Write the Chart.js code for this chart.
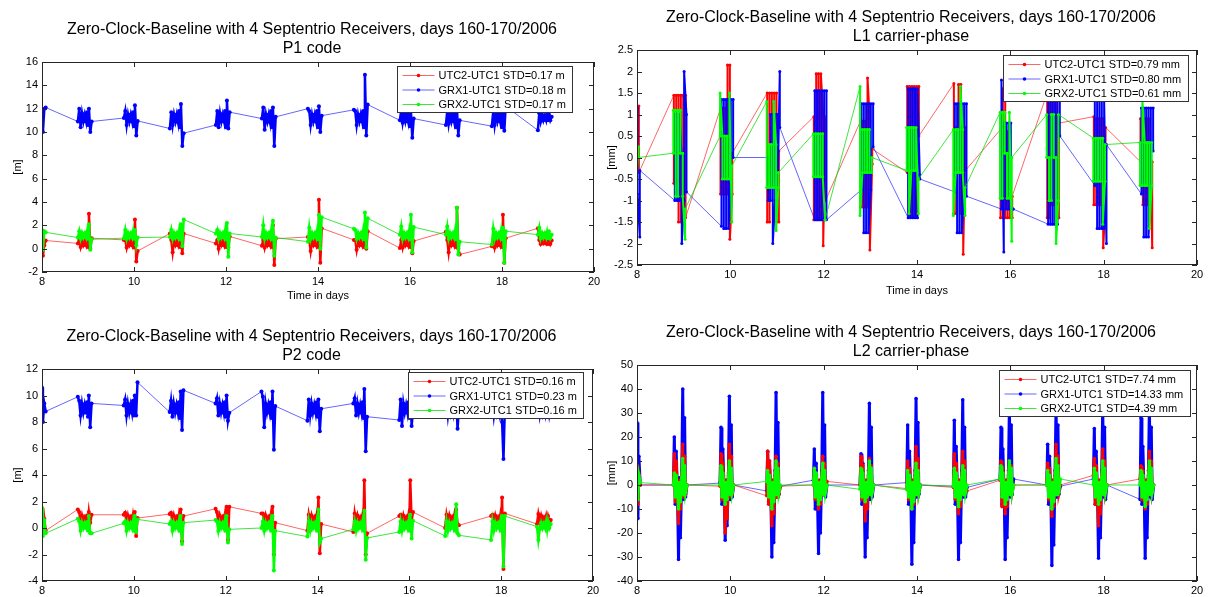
<!DOCTYPE html>
<html lang="en">
<head>
<meta charset="UTF-8">
<title>Zero-Clock-Baseline with 4 Septentrio Receivers</title>
<script src="https://cdn.jsdelivr.net/npm/chart.js"></script>
<style>
  body { margin: 0; background: #fff; }
  #wrap { position: relative; width: 1210px; height: 597px; overflow: hidden; }
  canvas { position: absolute; }
</style>
</head>
<body>
<div id="wrap">
  <canvas id="p1" width="605" height="305" style="left:0;top:0"></canvas>
  <canvas id="l1" width="605" height="300" style="left:605px;top:0"></canvas>
  <canvas id="p2" width="605" height="297" style="left:0;top:300px"></canvas>
  <canvas id="l2" width="605" height="297" style="left:605px;top:300px"></canvas>
</div>
<script>
// one cluster of samples per day, the first one starts at day 8.0
const days = [8, 9, 10, 11, 12, 13, 14, 15, 16, 17, 18, 19];
const titleLine = 'Zero-Clock-Baseline with 4 Septentrio Receivers, days 160-170/2006';
const seriesNames = ['UTC2-UTC1', 'GRX1-UTC1', 'GRX2-UTC1'];

// time of each sample inside a cluster, relative to the day
const codeOffsets = [-0.22, -0.19, -0.16, -0.13, -0.10, -0.07, -0.04, -0.02, 0, 0.02, 0.05, 0.08];
const l1RedOffsets = [-0.21, -0.21, -0.16, -0.16, -0.11, -0.11, -0.06, -0.06, -0.01, -0.01, 0.04, 0.04];
const l1BlueOffsets = [-0.19, -0.19, -0.14, -0.14, -0.09, -0.09, -0.04, -0.04, 0.01, 0.01, 0.06, 0.06];
const l1GreenOffsets = [-0.22, -0.22, -0.17, -0.17, -0.12, -0.12, -0.07, -0.07, -0.02, -0.02, 0.03, 0.03];
const l2Offsets = [-0.22, -0.2, -0.18, -0.16, -0.13, -0.11, -0.09, -0.07, -0.04, -0.02, 0, 0.02, 0.04, 0.07];

// ---- P1 code [m]
const p1Std = ['0.17 m', '0.18 m', '0.17 m'];
const p1Red = [
  [0.8, -0.6, 0.3, 0.7],
  [0.45, 0.75, 0.15, 0.65, 0.3, 0.65, 0.3, 0.75, 0.15, 3.0, 0.0, 0.9],
  [0.75, 0.75, 0.1, 0.65, 0.3, 0.65, 0.3, 0.75, 0.1, 2.5, -1.1, -0.2],
  [1.3, 0.75, -0.3, 0.65, 0.3, 0.65, 0.3, 0.75, 0.15, 1.2, -0.4, 1.3],
  [0.45, 0.75, 0.0, 0.65, 0.3, 0.65, 0.3, 0.75, 0.15, 1.1, 0.1, 1.05],
  [0.25, 0.75, 0.1, 0.65, 0.3, 0.65, 0.3, 0.75, 0.15, 2.0, -1.4, 0.85],
  [1.0, 0.75, -0.2, 0.65, 0.3, 0.65, 0.3, 0.75, 0.15, 4.2, -1.2, 1.75],
  [0.75, 0.75, -0.1, 0.65, 0.3, 0.65, 0.3, 0.75, 0.15, 1.6, 0.0, 1.5],
  [0.05, 0.75, 0.1, 0.65, 0.3, 0.65, 0.3, 0.75, 0.15, 1.0, -0.4, 0.65],
  [1.45, 0.75, -0.3, 0.65, 0.3, 0.65, 0.3, 0.75, 0.15, 3.5, 0.0, -0.5],
  [0.2, 0.75, 0.1, 0.65, 0.3, 0.65, 0.3, 0.75, 0.15, 2.9, -1.2, 0.9],
  [1.75, 0.75, 0.4, 0.65, 0.45, 0.65, 0.45, 0.75, 0.4, 0.8, 0.4, 0.7]
];
const p1Blue = [
  [11.3, 10.0, 12.0, 12.1],
  [10.9, 12.0, 10.4, 11.6, 10.9, 11.5, 10.9, 11.7, 10.6, 12.0, 10.0, 10.9],
  [11.2, 11.8, 10.6, 11.5, 10.9, 11.5, 10.9, 11.7, 10.5, 12.3, 9.7, 10.95],
  [10.3, 11.7, 10.6, 11.5, 10.9, 11.5, 10.8, 11.8, 10.4, 12.4, 8.8, 9.9],
  [10.6, 11.8, 10.4, 11.6, 10.9, 11.5, 10.9, 11.8, 10.4, 12.7, 10.3, 11.7],
  [11.15, 12.1, 10.2, 11.5, 10.9, 11.5, 10.8, 11.8, 10.4, 12.1, 8.8, 11.3],
  [12.0, 11.8, 10.6, 11.5, 10.9, 11.5, 10.9, 11.8, 10.4, 12.2, 10.0, 11.4],
  [11.9, 11.8, 10.6, 11.5, 10.9, 11.5, 10.9, 11.8, 10.4, 14.9, 9.7, 12.35],
  [11.0, 11.9, 10.8, 11.5, 10.9, 11.5, 10.9, 11.8, 10.5, 11.8, 9.5, 11.15],
  [10.6, 11.8, 10.7, 11.5, 10.9, 11.5, 10.9, 11.8, 10.4, 12.0, 9.7, 11.0],
  [10.5, 11.8, 10.6, 11.5, 10.9, 11.5, 10.9, 11.7, 10.4, 11.6, 10.1, 12.2],
  [10.15, 11.6, 10.9, 11.5, 11.0, 11.4, 11.0, 11.5, 11.0, 11.5, 11.0, 11.3]
];
const p1Green = [
  [1.6, -0.1, 1.5, 1.4],
  [0.95, 1.5, 0.85, 1.35, 0.95, 1.3, 0.95, 1.45, 0.85, 2.1, -0.1, 0.8],
  [0.9, 1.6, 0.85, 1.35, 0.95, 1.3, 0.95, 1.45, 0.85, 1.6, 0.3, 0.95],
  [1.0, 1.6, 0.85, 1.35, 0.95, 1.3, 0.95, 1.5, 0.8, 2.1, 0.2, 2.5],
  [1.3, 1.6, 0.85, 1.35, 0.95, 1.3, 0.95, 1.5, 0.8, 2.2, -0.7, 1.3],
  [1.0, 2.0, 0.85, 1.35, 0.95, 1.3, 0.95, 1.5, 0.8, 2.4, -0.6, 0.95],
  [0.6, 1.8, 0.85, 1.35, 0.95, 1.3, 0.95, 1.5, 0.8, 2.9, 0.0, 2.7],
  [1.7, 1.6, 0.85, 1.35, 0.95, 1.3, 0.95, 1.5, 0.8, 3.1, 0.1, 2.6],
  [1.2, 1.9, 0.85, 1.35, 0.95, 1.3, 0.95, 1.5, 0.8, 2.9, -0.3, 1.85],
  [1.2, 1.9, 0.85, 1.35, 0.95, 1.3, 0.95, 1.5, 0.8, 3.5, -0.5, 0.6],
  [0.35, 1.7, 0.85, 1.35, 0.95, 1.3, 0.95, 1.5, 0.8, 1.8, -1.2, 1.5],
  [1.2, 1.8, 0.9, 1.35, 0.95, 1.3, 0.95, 1.4, 0.9, 1.5, 0.9, 1.2]
];

// ---- L1 carrier-phase [mm]
const l1Std = ['0.79 mm', '0.80 mm', '0.61 mm'];
const l1Red = [
  [-0.8, 1.2, 1.2, -0.35],
  [1.45, -0.6, -0.6, 1.45, 1.45, -1.5, -1.5, 1.45, 1.45, -1.55, 1.45, -1.4],
  [1.15, -0.85, -0.85, 1.15, 1.15, -0.85, -0.85, 2.15, 2.15, -1.9, -0.85, 0.1],
  [1.5, -1.5, -1.5, 1.5, 1.5, -0.5, -0.5, 1.5, 1.5, -1.5, -1.5, 0.15],
  [0.95, -1.45, -1.45, 1.95, 1.95, -1.45, -1.45, 1.95, 0.95, -2.05, 0.95, -1.0],
  [0.85, -1.15, -1.15, 0.85, 0.85, -1.15, -1.15, 1.85, 0.85, -2.15, -0.15, 0.2],
  [-0.35, 1.65, 1.65, -1.35, -1.35, 1.65, 1.65, -1.35, -1.35, 1.65, 1.65, 0.5],
  [1.72, -1.3, -1.3, 0.7, 0.7, 1.7, 1.7, -1.3, 0.7, -2.25, 0.7, -0.3],
  [0.65, -1.4, -1.4, 1.6, 1.6, -1.4, -1.4, 0.6, 0.6, -1.4, -1.4, -0.9],
  [1.5, -1.4, -1.4, 1.6, 1.6, -1.1, -1.1, 1.6, 1.6, -1.4, -1.4, 0.8],
  [0.95, -1.1, -1.1, 0.9, 0.9, -1.1, -1.1, 0.9, 0.9, -2.1, -1.1, 0.7],
  [-0.1, 0.9, 0.9, -1.1, -1.1, 0.9, 0.9, -1.1, -1.1, 0.9, -2.1, -0.1]
];
const l1Blue = [
  [1.15, -0.85, -1.85, -0.3],
  [-1.0, 1.0, 1.0, -1.0, -1.0, 1.0, 0.0, -2.0, -1.0, 2.0, 1.0, -0.8],
  [-1.6, 1.35, 1.35, -1.65, -1.65, 1.35, 1.35, -1.65, -0.6, 1.35, 1.35, 0.0],
  [0.0, -1.0, -1.0, 1.0, 1.0, -2.0, -1.0, 1.0, 1.0, -1.0, 2.0, 0.7],
  [-1.45, 1.55, 1.55, -1.45, -1.45, 1.55, 1.55, -1.45, -1.45, 1.55, 1.55, -1.45],
  [-0.75, 1.25, 1.25, -1.75, -1.75, 1.25, 1.25, -1.75, -0.75, 1.25, 1.25, 0.25],
  [-1.4, 1.6, 1.6, -1.4, -1.4, 1.6, 1.6, -1.4, -1.4, 1.6, -0.4, -0.5],
  [-0.8, 1.25, 1.25, -1.75, -1.75, 1.25, 1.25, -1.75, -0.75, 1.25, 1.25, -0.9],
  [-1.2, 1.8, -2.2, 0.8, 0.8, -1.2, -1.2, 0.8, 0.8, -1.2, -1.2, -1.2],
  [-1.55, 1.45, 1.45, -1.55, -1.55, 1.45, 1.45, -1.55, -1.55, 1.45, 1.45, 0.5],
  [-0.65, 1.35, 1.35, -1.65, -1.65, 2.3, 1.35, -1.65, -1.65, 1.35, -2.0, 0.3],
  [-0.85, 1.15, 1.15, -1.85, -1.85, 1.15, 1.15, -1.85, -0.85, 1.15, 1.15, 0.15]
];
const l1Green = [
  [1.25, -0.75, 0.25, 0.0],
  [0.1, 1.1, 1.1, -0.9, -0.9, 1.1, 1.1, 0.1, 0.1, -0.9, -1.9, -1.2],
  [0.5, 1.5, 0.5, -0.5, -0.5, 0.5, 0.5, -0.5, -0.5, 1.5, -1.5, -0.2],
  [1.3, -0.7, -0.7, 0.3, 0.3, -0.7, -0.7, 1.3, 0.3, -1.7, -0.7, -0.35],
  [0.55, -0.45, -0.45, 0.55, 0.55, -0.45, -0.45, 0.55, 0.55, -0.45, -1.45, -1.45],
  [1.65, -1.35, -0.35, 0.65, 0.65, -0.35, -0.35, 0.65, 0.65, -0.35, -0.35, 0.0],
  [-0.3, 0.7, 0.7, -1.3, -0.3, 0.7, 0.7, -0.3, -0.3, 0.7, -1.3, -0.5],
  [0.65, -1.35, -0.35, 0.65, 0.65, -0.35, -0.35, 1.65, 0.65, -0.35, -1.35, -0.7],
  [1.05, -0.95, -0.95, 1.05, 1.05, 0.1, 0.1, -0.95, -0.95, 1.05, -1.95, 0.0],
  [1.0, 0.0, 0.0, -1.0, -1.0, 1.0, 1.0, 0.0, 0.0, -2.0, -1.0, 1.0],
  [0.45, -0.55, -0.55, 0.45, 0.45, -0.55, -0.55, 0.45, 0.45, -1.55, -0.55, 0.3],
  [0.35, -0.65, -0.65, 1.35, 0.35, -0.65, -0.65, 0.35, 0.35, -1.65, -0.65, 0.35]
];

// ---- P2 code [m]
const p2Std = ['0.16 m', '0.23 m', '0.16 m'];
const p2Red = [
  [1.5, -0.3, 0.7, -0.2],
  [1.4, 1.2, 0.45, 0.95, 0.5, 0.8, 0.5, 0.95, 0.45, 1.2, 0.4, 1.0],
  [1.0, 1.15, 0.45, 0.95, 0.5, 0.8, 0.5, 0.95, 0.45, 1.2, -0.6, 0.75],
  [1.05, 1.15, 0.45, 0.95, 0.5, 0.8, 0.5, 0.95, 0.45, 1.4, -1.0, 0.9],
  [1.45, 1.2, 0.45, 0.95, 0.5, 0.8, 0.5, 0.95, 0.45, 1.6, -0.9, 1.6],
  [1.1, 1.1, 0.45, 0.95, 0.5, 0.8, 0.5, 0.95, 0.45, 1.6, -2.0, 0.4],
  [-0.2, 1.0, 0.45, 0.95, 0.5, 0.8, 0.5, 0.95, 0.45, 2.3, -1.9, 0.3],
  [-0.3, 1.1, 0.45, 0.95, 0.5, 0.8, 0.5, 0.95, 0.45, 3.6, -2.0, -0.4],
  [0.9, 1.0, 0.45, 0.95, 0.5, 0.8, 0.5, 0.95, 0.45, 3.6, 0.5, 1.2],
  [0.0, 1.0, 0.45, 0.95, 0.5, 0.8, 0.5, 0.95, 0.45, 1.4, 0.3, 0.2],
  [0.9, 1.0, 0.45, 0.95, 0.5, 0.8, 0.5, 0.95, 0.45, 2.3, -3.1, 1.1],
  [0.3, 1.05, 0.5, 0.95, 0.55, 0.8, 0.55, 0.9, 0.5, 0.9, 0.5, 0.6]
];
const p2Blue = [
  [10.6, 8.0, 9.4, 8.8],
  [9.9, 9.6, 8.5, 9.4, 8.7, 9.3, 8.7, 9.5, 8.4, 10.0, 7.6, 9.4],
  [9.25, 9.7, 8.5, 9.4, 8.7, 9.3, 8.7, 9.6, 8.5, 10.0, 8.5, 11.0],
  [8.75, 9.6, 8.4, 9.4, 8.7, 9.3, 8.7, 9.5, 8.3, 10.3, 7.4, 10.4],
  [9.4, 9.8, 8.5, 9.4, 8.7, 9.3, 8.7, 9.5, 8.4, 10.0, 8.1, 8.7],
  [10.3, 9.9, 7.6, 9.4, 8.7, 9.3, 8.7, 9.5, 8.3, 10.3, 5.9, 9.2],
  [8.1, 9.7, 8.5, 9.4, 8.7, 9.3, 8.7, 9.5, 8.4, 9.7, 7.3, 9.0],
  [9.4, 9.8, 8.5, 9.4, 8.7, 9.3, 8.7, 9.5, 8.3, 10.5, 5.8, 8.4],
  [8.15, 9.7, 7.7, 9.4, 8.7, 9.3, 8.7, 9.5, 8.3, 10.8, 7.7, 8.85],
  [9.5, 9.6, 8.5, 9.4, 8.7, 9.3, 8.7, 9.5, 8.4, 9.8, 7.5, 9.0],
  [9.2, 9.6, 8.5, 9.4, 8.7, 9.3, 8.7, 9.5, 8.4, 8.0, 5.2, 9.1],
  [9.3, 9.6, 8.6, 9.4, 8.7, 9.3, 8.7, 9.5, 8.6, 9.6, 8.6, 9.2]
];
const p2Green = [
  [1.5, -0.6, 0.6, -0.4],
  [0.7, 0.5, -0.2, 0.4, 0.0, 0.35, 0.0, 0.45, -0.2, 0.9, -0.4, -0.4],
  [0.35, 0.5, -0.2, 0.4, 0.0, 0.35, 0.0, 0.45, -0.2, 0.9, -0.3, 0.65],
  [0.3, 0.5, -0.2, 0.4, 0.0, 0.35, 0.0, 0.45, -0.2, 0.9, -1.2, 0.4],
  [0.6, 0.5, -0.2, 0.4, 0.0, 0.35, 0.0, 0.45, -0.2, 0.9, -1.1, -0.1],
  [0.0, 0.5, -0.2, 0.4, 0.0, 0.35, 0.0, 0.45, -0.2, 0.9, -3.2, -0.2],
  [-0.65, 0.5, -0.2, 0.4, 0.0, 0.35, 0.0, 0.45, -0.2, 1.4, -1.1, -0.8],
  [-0.1, 0.5, -0.2, 0.4, 0.0, 0.35, 0.0, 0.45, -0.2, 1.3, -2.4, -0.75],
  [-0.3, 0.5, -0.2, 0.4, 0.0, 0.35, 0.0, 0.45, -0.2, 1.0, -0.8, 0.55],
  [-0.6, 0.5, -0.2, 0.4, 0.0, 0.35, 0.0, 0.45, -0.2, 1.8, -0.4, -0.55],
  [-0.9, 0.5, -0.2, 0.4, 0.0, 0.35, 0.0, 0.45, -0.2, 0.9, -2.9, 0.9],
  [0.1, -0.9, -0.1, 0.4, 0.0, 0.35, 0.0, 0.45, -0.1, 0.5, 0.0, 0.3]
];

// ---- L2 carrier-phase [mm]
const l2Std = ['7.74 mm', '14.33 mm', '4.39 mm'];
const l2Red = [
  [8, -8, 5, 0],
  [0, 13, -7, 10, -5, -16, 2, -10, 4, 17, -5, 12, -4, 0],
  [-0.5, 13, -6, 9, -5, -20, 2, -14, 4, 17, -5, 12, -4, 0],
  [-4.5, 14, -8, 10, -5, -17, 2, -12, 4, 12, -5, 9, -4, -0.5],
  [0, 7, -6, 5, -5, -10, 2, -8, 4, 12, -4, 9, -3, 1.5],
  [0, 12, -6, 8, -5, -15, 2, -10, 4, 11, -4, 8, -3, 0],
  [-1.5, 10, -6, 7, -5, -10, 2, -8, 4, 16, -4, 11, -3, 0],
  [-1, 13, -6, 9, -5, -12, 2, -9, 4, 14, -4, 10, -3, -2.5],
  [2, 10, -9, 7, -5, -12, 2, -9, 4, 10, -4, 8, -3, 0],
  [0, 9, -6, 7, -5, -13, 2, -9, 4, 17, -4, 12, -3, 0],
  [4, 11, -8, 8, -5, -17, 2, -12, 4, 15, -4, 10, -3, 0],
  [2.5, 8, -6, 6, -5, -10, 2, -8, 4, 14, -4, 10, -3, 0]
];
const l2Blue = [
  [26, -14, 12, 0],
  [0, 20, -8, 14, -6, -31, 3, -22, 6, 40, -6, 28, -5, 0],
  [0.8, 24, -8, 15, -5, -23, 2, -17, 5, 37, -6, 25, -5, 0],
  [-2.5, 14, -7, 10, -6, -30, 2, -24, 6, 38.5, -5, 26, -4, -0.5],
  [2, 15, -10, 9, -8, -28.5, 2, -20, 6, 38.5, -4, 25, -5, 0],
  [0, 13, -8, 9, -6, -30, 2, -22, 6, 34, -6, 24, -5, 0],
  [1, 25, -8, 14, -6, -33, 2, -24, 6, 36, -5, 26, -4, 0],
  [-0.5, 27, -8, 16, -6, -31, 2, -24, 6, 35.5, -5, 24, -5, -1],
  [2.5, 24, -8, 15, -6, -31, 2, -22, 6, 33, -5, 25, -4, 2.5],
  [0, 17, -8, 12, -6, -33.5, 2, -25, 6, 34, -5, 25, -4, -0.5],
  [2.5, 23.5, -8, 14, -6, -30.5, 2, -22, 6, 33, -5, 24, -6, 0],
  [-6, 28, -8, 16, -6, -30.5, 2, -22, 6, 33, -5, 24, -6, 0]
];
const l2Green = [
  [6, -6, 4, 1],
  [0, 5, -5, 4, -3, -10, 1, -7, 3, 11, -4, 8, -3, 0],
  [0, 8, -5, 5, -3, -8, 1, -6, 3, 10, -4, 7, -3, 0],
  [1.5, 6, -5, 4, -3, -10, 1, -7, 3, 10, -4, 7, -3, 0],
  [0, 7, -5, 5, -3, -8, 1, -6, 3, 9, -4, 6, -3, 0],
  [-1.8, 7, -5, 5, -3, -7, 1, -5, 3, 10, -4, 7, -3, 0],
  [-2, 6, -5, 4, -3, -10, 1, -7, 3, 9, -4, 6, -3, 0],
  [-0.5, 7, -5, 5, -3, -9, 1, -6, 3, 8, -4, 6, -3, 0],
  [2.5, 8, -5, 5, -3, -8, 1, -6, 3, 10, -4, 7, -3, 0],
  [0, 6, -5, 4, -3, -10, 1, -7, 3, 11, -4, 8, -3, 2.5],
  [0, 7, -5, 5, -3, -8, 1, -6, 3, 10, -4, 7, -3, 0],
  [0, 6, -5, 4, -3, -9, 1, -6, 3, 10, -4, 7, -3, 0]
];

const FONT = '"Liberation Sans", Arial, Helvetica, sans-serif';
Chart.defaults.font.family = FONT;
Chart.defaults.color = '#000';

const colors = ['rgb(255,0,0)', 'rgb(0,0,255)', 'rgb(0,255,0)'];
const lightColors = ['rgba(255,0,0,0.6)', 'rgba(0,0,255,0.6)', 'rgba(0,220,0,0.75)'];

// short cluster (day 8) lines up with the end of the offsets
function buildPoints(clusters, offsets) {
  const pts = [];
  clusters.forEach((vals, i) => {
    const first = offsets.length - vals.length;
    vals.forEach((v, j) => pts.push({ x: days[i] + offsets[first + j], y: v }));
  });
  return pts;
}

function makeSeries(i, label, clusters, offsets, innerWidth, radius, order) {
  const gap = ctx => ctx.p1.parsed.x - ctx.p0.parsed.x > 0.3;
  return {
    label: label,
    data: buildPoints(clusters, offsets),
    borderColor: colors[i],
    backgroundColor: colors[i],
    borderWidth: 1,
    pointRadius: radius,
    pointBorderWidth: 0,
    pointHoverRadius: 0,
    order: order,
    segment: {
      borderColor: ctx => gap(ctx) ? lightColors[i] : colors[i],
      borderWidth: ctx => gap(ctx) ? 1 : innerWidth
    }
  };
}

// axes box with inward ticks, two-line title and boxed legend
const panelPlugin = {
  id: 'panel',
  afterDatasetsDraw(chart, args, opts) {
    const { ctx, chartArea: a, scales: { x, y } } = chart;
    ctx.save();
    ctx.strokeStyle = '#262626';
    ctx.lineWidth = 1;
    ctx.strokeRect(a.left + 0.5, a.top + 0.5, a.right - a.left - 1, a.bottom - a.top - 1);
    ctx.beginPath();
    x.ticks.forEach(t => {
      const px = Math.round(x.getPixelForValue(t.value)) + 0.5;
      ctx.moveTo(px, a.bottom); ctx.lineTo(px, a.bottom - 5);
      ctx.moveTo(px, a.top); ctx.lineTo(px, a.top + 5);
    });
    y.ticks.forEach(t => {
      const py = Math.round(y.getPixelForValue(t.value)) + 0.5;
      ctx.moveTo(a.left, py); ctx.lineTo(a.left + 5, py);
      ctx.moveTo(a.right, py); ctx.lineTo(a.right - 5, py);
    });
    ctx.stroke();

    // title
    ctx.fillStyle = '#000';
    ctx.font = '16px ' + FONT;
    ctx.textAlign = 'center';
    ctx.textBaseline = 'middle';
    const cx = (a.left + a.right) / 2 - 6;
    ctx.fillText(titleLine, cx, a.top - 32);
    ctx.fillText(opts.subtitle, cx, a.top - 13);

    // legend
    const sets = chart.data.datasets;
    ctx.font = '11px ' + FONT;
    const tw = Math.max(...sets.map(d => ctx.measureText(d.label).width));
    const w = Math.round(tw + 48), h = 46;
    const bx = Math.round(a.right - opts.legendRight - w) + 0.5;
    const by = Math.round(a.top + opts.legendTop) + 0.5;
    ctx.fillStyle = '#fff';
    ctx.fillRect(bx, by, w, h);
    ctx.strokeStyle = '#333';
    ctx.strokeRect(bx, by, w, h);
    sets.forEach((d, i) => {
      const ry = by + 9 + i * 14.5;
      ctx.strokeStyle = lightColors[i];
      ctx.beginPath();
      ctx.moveTo(bx + 5, ry); ctx.lineTo(bx + 37, ry);
      ctx.stroke();
      ctx.fillStyle = colors[i];
      ctx.beginPath();
      ctx.arc(bx + 21, ry, 1.8, 0, Math.PI * 2);
      ctx.fill();
      ctx.fillStyle = '#000';
      ctx.textAlign = 'left';
      ctx.fillText(d.label, bx + 41, ry + 0.5);
    });
    ctx.restore();
  }
};

function makeChart(id, cfg) {
  new Chart(document.getElementById(id), {
    type: 'line',
    data: { datasets: cfg.datasets },
    options: {
      responsive: false,
      animation: false,
      devicePixelRatio: 1,
      events: [],
      layout: { padding: cfg.padding },
      plugins: {
        legend: { display: false },
        tooltip: { enabled: false },
        panel: { subtitle: cfg.subtitle, legendRight: cfg.legendRight, legendTop: cfg.legendTop }
      },
      scales: {
        x: {
          type: 'linear', min: 8, max: 20,
          afterFit: s => { s.height = cfg.xHeight; },
          grid: { display: false, drawTicks: false },
          border: { display: false },
          ticks: { stepSize: 2, padding: 3, maxRotation: 0, font: { size: 11 }, color: '#000' },
          title: { display: cfg.xTitle, text: 'Time in days', font: { size: 11 }, color: '#000', padding: { top: 0, bottom: 2 } }
        },
        y: {
          type: 'linear', min: cfg.yMin, max: cfg.yMax,
          afterFit: s => { s.width = cfg.yWidth; },
          grid: { display: false, drawTicks: false },
          border: { display: false },
          ticks: {
            stepSize: cfg.yStep, padding: 4, font: { size: 11 }, color: '#000',
            callback: v => String(Math.round(v * 10) / 10)
          },
          title: { display: true, text: cfg.yLabel, font: { size: 11 }, color: '#000', padding: { top: cfg.yTitlePad, bottom: 0 } }
        }
      }
    },
    plugins: [panelPlugin]
  });
}

function labels(std) {
  return seriesNames.map((n, i) => n + ' STD=' + std[i]);
}

// draw order: green on top, then blue, red underneath (L2: red over blue)
const p1Labels = labels(p1Std);
makeChart('p1', {
  subtitle: 'P1 code', yLabel: '[m]', yMin: -2, yMax: 16, yStep: 2,
  padding: { left: 0, right: 11, top: 62, bottom: 0 }, yWidth: 42, xHeight: 33, xTitle: true, yTitlePad: 11,
  legendRight: 22, legendTop: 4,
  datasets: [
    makeSeries(0, p1Labels[0], p1Red, codeOffsets, 2.5, 2, 2),
    makeSeries(1, p1Labels[1], p1Blue, codeOffsets, 2.5, 2, 1),
    makeSeries(2, p1Labels[2], p1Green, codeOffsets, 2.5, 2, 0)
  ]
});

const l1Labels = labels(l1Std);
makeChart('l1', {
  subtitle: 'L1 carrier-phase', yLabel: '[mm]', yMin: -2.5, yMax: 2.5, yStep: 0.5,
  padding: { left: 0, right: 13, top: 50, bottom: 0 }, yWidth: 32, xHeight: 35, xTitle: true, yTitlePad: 0,
  legendRight: 9, legendTop: 5,
  datasets: [
    makeSeries(0, l1Labels[0], l1Red, l1RedOffsets, 2, 1.5, 2),
    makeSeries(1, l1Labels[1], l1Blue, l1BlueOffsets, 2, 1.5, 1),
    makeSeries(2, l1Labels[2], l1Green, l1GreenOffsets, 2, 1.5, 0)
  ]
});

const p2Labels = labels(p2Std);
makeChart('p2', {
  subtitle: 'P2 code', yLabel: '[m]', yMin: -4, yMax: 12, yStep: 2,
  padding: { left: 0, right: 12, top: 69, bottom: 0 }, yWidth: 42, xHeight: 16, xTitle: false, yTitlePad: 11,
  legendRight: 10, legendTop: 3,
  datasets: [
    makeSeries(0, p2Labels[0], p2Red, codeOffsets, 2.5, 2, 2),
    makeSeries(1, p2Labels[1], p2Blue, codeOffsets, 2.5, 2, 1),
    makeSeries(2, p2Labels[2], p2Green, codeOffsets, 2.5, 2, 0)
  ]
});

const l2Labels = labels(l2Std);
makeChart('l2', {
  subtitle: 'L2 carrier-phase', yLabel: '[mm]', yMin: -40, yMax: 50, yStep: 10,
  padding: { left: 0, right: 13, top: 65, bottom: 0 }, yWidth: 32, xHeight: 16, xTitle: false, yTitlePad: 0,
  legendRight: 7, legendTop: 5,
  datasets: [
    makeSeries(0, l2Labels[0], l2Red, l2Offsets, 3, 1.8, 1),
    makeSeries(1, l2Labels[1], l2Blue, l2Offsets, 3, 1.8, 2),
    makeSeries(2, l2Labels[2], l2Green, l2Offsets, 3, 1.8, 0)
  ]
});
</script>
</body>
</html>
